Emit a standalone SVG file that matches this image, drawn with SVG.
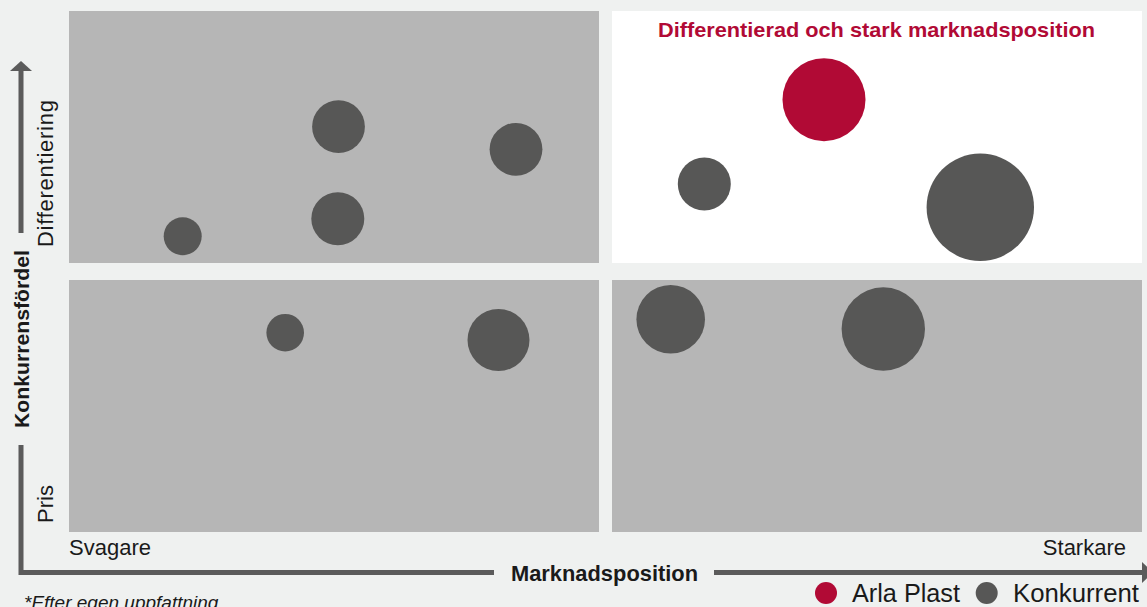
<svg xmlns="http://www.w3.org/2000/svg" width="1147" height="607" viewBox="0 0 1147 607">
<style>
.q{fill:#b6b6b6}
.qw{fill:#ffffff}
.c{fill:#575756}
.r{fill:#b10a35}
.ax{stroke:#5b5b5b;stroke-width:5;fill:none}
.ah{fill:#5b5b5b}
.t{font-family:"Liberation Sans",Arial,sans-serif;fill:#1a1a1a}
.b{font-weight:bold}
</style>
<rect width="1147" height="607" fill="#eff1f0"/>
<g id="quadrants">
<rect id="q-tl" class="q" x="69" y="11" width="530" height="252"/>
<rect id="q-tr" class="qw" x="612" y="11" width="530" height="252"/>
<rect id="q-bl" class="q" x="69" y="280" width="530" height="252"/>
<rect id="q-br" class="q" x="612" y="280" width="530" height="252"/>
</g>
<g id="connectors">
<line class="ax" x1="21" y1="233" x2="21" y2="70"/>
<polygon class="ah" points="21,61 10,71 32,71"/>
<polyline class="ax" points="21,445 21,572.5 494,572.5"/>
<line class="ax" x1="714" y1="572.5" x2="1143" y2="572.5"/>
<polygon class="ah" points="1142,562 1153,572.5 1142,583"/>
</g>
<g id="bubbles-tl">
<circle id="b1" class="c" cx="338.5" cy="126.7" r="26.4"/>
<circle id="b2" class="c" cx="516" cy="149.3" r="26.4"/>
<circle id="b3" class="c" cx="337.8" cy="218.7" r="26.5"/>
<circle id="b4" class="c" cx="182.7" cy="236.3" r="19"/>
</g>
<g id="bubbles-tr">
<circle id="arla" class="r" cx="824" cy="99.7" r="41.5"/>
<circle id="b5" class="c" cx="704.3" cy="184" r="26.5"/>
<circle id="b6" class="c" cx="980.3" cy="207.3" r="53.7"/>
</g>
<g id="bubbles-bl">
<circle id="b7" class="c" cx="285.2" cy="332.7" r="18.8"/>
<circle id="b8" class="c" cx="498.5" cy="340" r="31"/>
</g>
<g id="bubbles-br">
<circle id="b9" class="c" cx="670.7" cy="319.3" r="34.3"/>
<circle id="b10" class="c" cx="883.3" cy="329" r="41.7"/>
</g>
<g id="labels">
<text class="t b" x="876.5" y="37" font-size="20.5" text-anchor="middle" fill="#b10a35" style="fill:#b10a35" textLength="437" lengthAdjust="spacingAndGlyphs">Differentierad och stark marknadsposition</text>
<text class="t" x="69" y="555" font-size="22">Svagare</text>
<text class="t" x="1126" y="555" font-size="22" text-anchor="end">Starkare</text>
<text class="t b" x="511" y="581" font-size="21.5" textLength="187" lengthAdjust="spacingAndGlyphs">Marknadsposition</text>
<text class="t b" transform="translate(29,428) rotate(-90)" font-size="21" textLength="178" lengthAdjust="spacingAndGlyphs">Konkurrensfördel</text>
<text class="t" transform="translate(53,247) rotate(-90)" font-size="22" textLength="147" lengthAdjust="spacing">Differentiering</text>
<text class="t" transform="translate(53,523) rotate(-90)" font-size="22" textLength="38" lengthAdjust="spacing">Pris</text>
<text class="t" x="24" y="609" font-size="19" font-style="italic">*Efter egen uppfattning</text>
</g>
<g id="legend">
<circle class="r" cx="826" cy="593" r="11"/>
<text class="t" x="852" y="602" font-size="25" textLength="108" lengthAdjust="spacingAndGlyphs">Arla Plast</text>
<circle class="c" cx="986.7" cy="593" r="11"/>
<text class="t" x="1013" y="602" font-size="25" textLength="126" lengthAdjust="spacingAndGlyphs">Konkurrent</text>
</g>
</svg>
